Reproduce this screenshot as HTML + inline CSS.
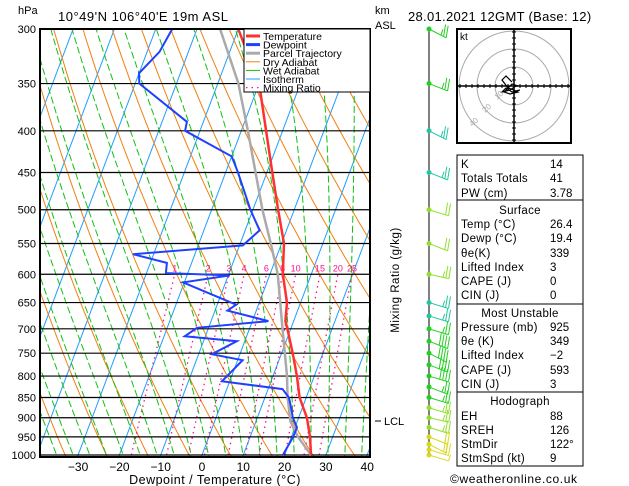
<!DOCTYPE html>
<html><head><meta charset="utf-8"><style>
body{margin:0;background:#fff;}
svg{display:block;font-family:"Liberation Sans",sans-serif;}
text{fill:#000;}
</style></head><body>
<svg id="c" width="629" height="486" viewBox="0 0 629 486">
<defs><clipPath id="plot"><rect x="40" y="29" width="330" height="428"/></clipPath></defs>
<g id="bg" clip-path="url(#plot)"></g>
<g id="grid"></g>
<g id="series" clip-path="url(#plot)"></g>
<rect x="40" y="29" width="330" height="428" fill="none" stroke="#000" stroke-width="2"/>
<text x="18" y="14" font-size="11">hPa</text>
<text x="58" y="21" font-size="13" letter-spacing="0.5">10°49'N  106°40'E  19m  ASL</text>
<text x="375" y="14" font-size="11">km</text>
<text x="375" y="29" font-size="11">ASL</text>
<text x="408" y="21" font-size="13" letter-spacing="0.3">28.01.2021  12GMT  (Base: 12)</text>
<text x="215" y="484" font-size="12.5" text-anchor="middle" letter-spacing="0.5">Dewpoint / Temperature (°C)</text>
<text transform="translate(399,280) rotate(-90)" font-size="11.5" text-anchor="middle" letter-spacing="0.5">Mixing Ratio (g/kg)</text>
<line x1="375" y1="421" x2="381" y2="421" stroke="#000"/>
<text x="384" y="425" font-size="11">LCL</text>
<g id="legend"></g>
<g id="barbs"></g>
<g id="hodo"></g>
<g id="table"></g>
<text x="450" y="483" font-size="12" letter-spacing="0.6">©weatheronline.co.uk</text>
</svg>
<script>
const tempP=[1000,950,900,850,800,750,700,685,650,600,550,500,450,400,350,300];
const tempT=[26.4,24.5,22.0,18.4,15.8,12.7,9.2,8.0,6.7,3.1,0.6,-3.9,-8.7,-14,-20,-30];
const dewP=[1000,950,925,900,870,850,830,812,765,752,725,715,698,685,678,665,654,614,602,598,581,567,553,530,500,450,430,400,390,350,340,320,300];
const dewT=[19.6,20.4,20.5,18.6,17,15.8,13.5,-1.9,1.2,-6.8,-1.9,-15,-12.8,3.9,0.2,-7,-5.4,-20.3,-9.6,-25.3,-26,-35,-9.2,-6.5,-10.6,-17,-20,-33.6,-34,-49,-50,-47,-46];
const parP=[1000,950,910,850,800,700,600,550,500,400,350,300];
const parT=[26.4,21.6,18.4,15.5,13.4,8.0,1.9,-2.6,-7.7,-18.4,-25,-34.4];
const pLevels=[300,350,400,450,500,550,600,650,700,750,800,850,900,950,1000];
const xTicks=[-30,-20,-10,0,10,20,30,40];
const mixW=[1,2,3,4,6,8,10,15,20,25];
const barbP=[1000,985,970,950,925,900,875,850,825,800,775,750,725,700,675,650,600,550,500,450,400,350,300];
const barbDir=[80,100,120,110,100,90,80,80,70,80,70,60,70,80,80,80,90,70,80,70,60,70,60];
const barbSpd=[5,8,10,12,14,15,15,15,16,18,20,18,18,16,15,15,14,10,10,15,15,15,15];
const tblLabels=["K","Totals Totals","PW (cm)","Surface","Temp (°C)","Dewp (°C)","θe(K)","Lifted Index","CAPE (J)","CIN (J)","Most Unstable","Pressure (mb)","θe (K)","Lifted Index","CAPE (J)","CIN (J)","Hodograph","EH","SREH","StmDir","StmSpd (kt)"];
const tblValues=["14","41","3.78","","26.4","19.4","339","3","0","0","","925","349","−2","593","3","","88","126","122°","9"];

const NS="http://www.w3.org/2000/svg";
const yP=p=>29+Math.log(p/300)/Math.log(1000/300)*426;
const xT=(T,p)=>202+4.13*T+0.376*(455-yP(p));
function mk(tag,attrs,parent){const e=document.createElementNS(NS,tag);for(const k in attrs)e.setAttribute(k,attrs[k]);parent.appendChild(e);return e;}
const bg=document.getElementById('bg'),grid=document.getElementById('grid'),ser=document.getElementById('series');
function poly(pts,attrs,parent){return mk('polyline',Object.assign({points:pts.map(q=>q[0].toFixed(1)+','+q[1].toFixed(1)).join(' '),fill:'none'},attrs),parent);}
for(let T=-120;T<=40;T+=10){
 const l=poly([[xT(T,1050),yP(1050)],[xT(T,290),yP(290)]],{stroke:'#1e9eff','stroke-width':1},bg);
 
 
}
for(let th=230;th<=520;th+=10){
 const pts=[];for(let p=1050;p>=290;p-=10){const T=th*Math.pow(p/1000,0.286)-273.15;pts.push([xT(T,p),yP(p)]);}
 const l=poly(pts,{stroke:'#f08010','stroke-width':1},bg);
 
 
}
function es(T){return 6.112*Math.exp(17.67*T/(T+243.5));}
for(let T0=-40;T0<=40;T0+=4){
 let T=T0+273.15,pts=[];
 for(let p=1050;p>=290;p-=2){
  pts.push([xT(T-273.15,p),yP(p)]);
  const rs=0.622*es(T-273.15)/(p-es(T-273.15));
  const dTdp=(287*T+2.5e6*rs)/(p*(1004+2.5e6*2.5e6*rs*0.622/(287*T*T)));
  T-=dTdp*2;
 }
 const l=poly(pts,{stroke:'#10c010','stroke-width':1,'stroke-dasharray':'7,3'},bg);
 
 
}
mixW.forEach(w=>{
 const pts=[];for(let p=1000;p>=600;p-=10){const e=w*p/(622+w);const a=Math.log(e/6.112);const Td=243.5*a/(17.67-a);pts.push([xT(Td,p),yP(p)]);}
 const l=poly(pts,{stroke:'#ff1090','stroke-width':1.3,'stroke-dasharray':'1.5,4'},bg);
 
 
 const t=mk('text',{x:pts[pts.length-1][0],y:yP(600)-3,'font-size':9,'text-anchor':'middle',style:'fill:#ff1090'},grid);
 t.textContent=w;
 
 
});
pLevels.forEach(p=>{
 const y=yP(p);
 const l=mk('line',{x1:40,x2:370,y1:y,y2:y,stroke:'#000','stroke-width':1.2},grid);
 
 
 const t=mk('text',{x:36,y:y+4,'font-size':11,'text-anchor':'end'},grid);t.textContent=p;
 
 
});
xTicks.forEach(T=>{
 const t=mk('text',{x:xT(T,1000),y:471,'font-size':12,'text-anchor':'middle'},grid);t.textContent=T<0?'−'+(-T):T;
 
 
});
const par=poly(parP.map((p,i)=>[xT(parT[i],p),yP(p)]),{stroke:'#aaa','stroke-width':2.5},ser);


const tl=poly(tempP.map((p,i)=>[xT(tempT[i],p),yP(p)]),{stroke:'#ff3030','stroke-width':2.5},ser);


const dl=poly(dewP.map((p,i)=>[xT(dewT[i],p),yP(p)]),{stroke:'#2040ff','stroke-width':2},ser);


const lg=document.getElementById('legend');
mk('rect',{x:244,y:29,width:126,height:63,fill:'#fff',stroke:'#000','stroke-width':1},lg);
const leg=[["Temperature",'#ff3030',3,''],["Dewpoint",'#2040ff',3,''],["Parcel Trajectory",'#aaa',3,''],["Dry Adiabat",'#f08010',1,''],["Wet Adiabat",'#10c010',1,''],["Isotherm",'#1e9eff',1,''],["Mixing Ratio",'#ff1090',1.2,'1.5,4']];
leg.forEach((e,i)=>{
 const y=36+i*8.6;
 const l=mk('line',{x1:246,x2:260,y1:y,y2:y,stroke:e[1],'stroke-width':e[2],'stroke-dasharray':e[3]},lg);
 
 
 const t=mk('text',{x:263,y:y+4,'font-size':10.5},lg);t.textContent=e[0];
 
 
});
const bb=document.getElementById('barbs');
mk('line',{x1:429,x2:429,y1:29,y2:457,stroke:'#000'},bb);
const barbCol=p=>p>=950?'#d8d820':p>=870?'#90e030':p>=700?'#20d020':p>=650?'#20c8a0':p>=500?'#90e030':p>=400?'#20c8a0':'#20d020';
barbP.forEach((p,i)=>{
 const y=yP(p),c=barbCol(p),a=barbDir[i]*Math.PI/180,L=22;
 const x2=429+L*Math.sin(a)*0.9,y2=y+L*(0.2+Math.abs(Math.cos(a))*0.4);
 const g=mk('g',{},bb);
 
 
 mk('circle',{cx:429,cy:y,r:2.5,fill:c},g);
 mk('line',{x1:429,y1:y,x2:x2,y2:y2,stroke:c,'stroke-width':1},g);
 const n=Math.round(barbSpd[i]/5);
 for(let k=0;k<Math.min(n,4);k++){const f=1-k*0.15;const bx=429+(x2-429)*f,by=y+(y2-y)*f;const len=(k===n-1&&n%2)?6:12;mk('line',{x1:bx,y1:by,x2:bx+2,y2:by-len,stroke:c},g);}
});
const hd=document.getElementById('hodo');
mk('rect',{x:457,y:29,width:114,height:114,fill:'#fff',stroke:'#000','stroke-width':2},hd);
[19,37,55].forEach(r=>mk('circle',{cx:514,cy:86,r:r,fill:'none',stroke:'#aaa'},hd));
mk('line',{x1:458,x2:570,y1:86,y2:86,stroke:'#000','stroke-width':1.5},hd);
mk('line',{x1:514,x2:514,y1:30,y2:142,stroke:'#000','stroke-width':1.5},hd);
for(let d=-54;d<=54;d+=6){if(!d)continue;mk('line',{x1:514+d,x2:514+d,y1:84,y2:88,stroke:'#000'},hd);mk('line',{x1:512,x2:516,y1:86+d,y2:86+d,stroke:'#000'},hd);}
const hk=mk('text',{x:460,y:40,'font-size':10},hd);hk.textContent='kt';
const hodoU=[-2,-8,-12,-6,0,4,-4,-10,-6,-2,4,2,-4,-12,-8,-2,6];
const hodoV=[-4,-10,-6,2,4,6,8,6,2,-2,0,0,4,6,2,6,4];
const hl=poly(hodoU.map((u,i)=>[514+u,86+hodoV[i]]),{stroke:'#000','stroke-width':1.2},hd);


[[497,100,'10'],[485,113,'20'],[472,127,'40']].forEach(e=>{const t=mk('text',{x:e[0],y:e[1],'font-size':8,style:'fill:#aaa',transform:`rotate(-40 ${e[0]} ${e[1]})`},hd);t.textContent=e[2];});
const tb=document.getElementById('table');
[[155,200],[200,304],[304,392],[392,466]].forEach(b=>mk('rect',{x:457,y:b[0],width:126,height:b[1]-b[0],fill:'#fff',stroke:'#000','stroke-width':1},tb));
const rowY=[164,178,193,210,224,238,253,267,281,295,313,327,341,355,370,384,401,416,430,444,458];
tblLabels.forEach((s,i)=>{
 const hdr=tblValues[i]==='';
 const t=mk('text',{x:hdr?520:461,y:rowY[i]+4,'font-size':11.5,'text-anchor':hdr?'middle':'start','letter-spacing':0.3},tb);t.textContent=s;
 
 
 if(!hdr){const v=mk('text',{x:550,y:rowY[i]+4,'font-size':11.5},tb);v.textContent=tblValues[i];
 
 }
});
</script>
</body></html>
